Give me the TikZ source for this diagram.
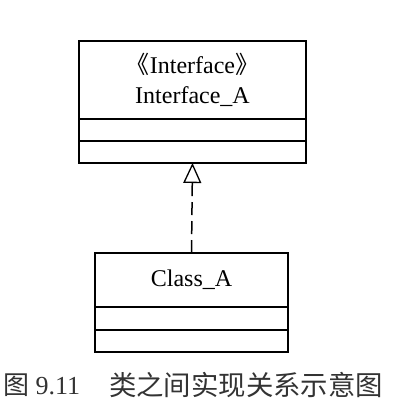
\documentclass[tikz,border=0pt]{standalone}
\usepackage{fontspec}
\setmainfont{Liberation Serif}
\newfontfamily\cjk{Noto Sans CJK SC}
\usetikzlibrary{arrows.meta,positioning}

\tikzset{
    part/.style={draw, line width=1.3pt, outer sep=0pt, inner sep=0pt, align=center, font=\fontsize{24}{30}\selectfont},
    realize/.style={-{Triangle[open, length=20pt, width=18pt, line width=1.3pt]}, dashed, dash pattern=on 13pt off 6pt, line width=1.5pt}
}

\begin{document}
\begin{tikzpicture}[x=1pt, y=-1pt]
    \useasboundingbox (0,0) rectangle (412,413);

    \node[part, line width=1.8pt, minimum width=227pt, minimum height=78pt] (iname) at (192.5, 80) {{\cjk 《}Interface{\cjk 》}\\Interface\_A};
    \node[part, line width=1.8pt, minimum width=227pt, minimum height=22pt, below=0pt of iname] (iattr) {};
    \node[part, line width=1.8pt, minimum width=227pt, minimum height=22pt, below=0pt of iattr] (iop) {};

    \node[part, minimum width=193pt, minimum height=54pt] (cname) at (191.5, 280) {Class\_A};
    \node[part, minimum width=193pt, minimum height=23pt, below=0pt of cname] (cattr) {};
    \node[part, minimum width=193pt, minimum height=22pt, below=0pt of cattr] (cop) {};

    \draw[realize] (cname.north) to (iop.south);

    % caption
    \node[anchor=west, text=black!80, font=\fontsize{26}{30}\selectfont, inner sep=0pt] (fig) at (3, 385) {{\cjk 图} 9.11};
    \node[anchor=west, text=black!80, font=\cjk\fontsize{27.4}{30}\selectfont, inner sep=0pt] (title) at (109, 385) {类之间实现关系示意图};
\end{tikzpicture}
\end{document}
